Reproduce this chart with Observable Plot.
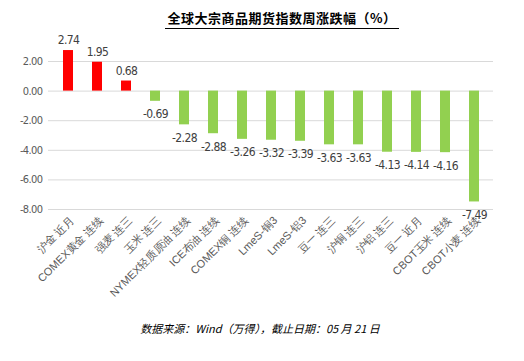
<!DOCTYPE html>
<html><head><meta charset="utf-8">
<script src="https://cdn.jsdelivr.net/npm/d3@7"></script>
<script src="https://cdn.jsdelivr.net/npm/@observablehq/plot@0.6"></script>
<style>
body{margin:0;background:#fff;}
#wrap{position:relative;width:524px;height:361px;overflow:hidden;}
#title{position:absolute;left:0;width:564px;top:8px;text-align:center;font:bold 13px "Noto Sans CJK SC",sans-serif;color:#000;letter-spacing:0.5px;}
#title span{border-bottom:1.5px solid #000;padding:0 2px 1px 2px;}
#cap{position:absolute;left:0;width:520px;top:320px;text-align:center;font:italic 11px "Noto Sans CJK SC",sans-serif;color:#000;}
g.num text{font-stretch:condensed;letter-spacing:-0.6px;}
</style></head>
<body><div id="wrap"><div id="title"><span>全球大宗商品期货指数周涨跌幅（%）</span></div><div id="chart"></div><div id="cap">数据来源：Wind（万得），截止日期：05 月 21 日</div></div>
<script>
const categories = ["沪金 近月","COMEX黄金 连续","强麦 连三","玉米 连三","NYMEX轻质原油 连续","ICE布油 连续","COMEX铜 连续","LmeS-铜3","LmeS-铝3","豆一 连三","沪铜 连三","沪铝 连三","豆一 近月","CBOT玉米 连续","CBOT小麦 连续"];
const values = [2.74,1.95,0.68,-0.69,-2.28,-2.88,-3.26,-3.32,-3.39,-3.63,-3.63,-4.13,-4.14,-4.16,-7.49];
const yTicks = [2,0,-2,-4,-6,-8];
const data = categories.map((c,i)=>({c, v: values[i]}));
const font = '"DejaVu Sans","Liberation Sans",Arial,sans-serif';
const chart = Plot.plot({
  width: 524, height: 361,
  marginLeft: 48, marginRight: 31, marginTop: 61, marginBottom: 152,
  style: {fontFamily: font, fontSize: "11px", color: "#595959", background: "transparent"},
  x: {domain: categories, paddingInner: 0.66, paddingOuter: 0.33, align: 0.5},
  y: {domain: [-8, 2], ticks: yTicks},
  marks: [
    Plot.gridY(yTicks, {stroke: "#D9D9D9", strokeOpacity: 1, strokeWidth: 1}),
    Plot.axisY(yTicks, {tickSize: 0, tickPadding: 6, tickFormat: d => d.toFixed(2), label: null, fontSize: 11, fill: "#595959", className: "num"}),
    Plot.axisX({tickSize: 0, tickRotate: -45, tickPadding: 9, label: null, fontSize: 11, fill: "#595959", dx: 4, fontFamily: '"Liberation Sans",Arial,sans-serif'}),
    Plot.barY(data, {x: "c", y: "v", fill: d => d.v >= 0 ? "#FF0000" : "#92D050"}),
    Plot.text(data, {x: "c", y: "v", text: d => String(d.v), fill: "#404040", fontSize: 12,
      filter: d => d.v >= 0, dy: -10, className: "num"}),
    Plot.text(data, {x: "c", y: "v", text: d => String(d.v), fill: "#404040", fontSize: 12,
      filter: d => d.v < 0, dy: 13, className: "num"})
  ]
});
document.getElementById("chart").appendChild(chart);
</script></body></html>
